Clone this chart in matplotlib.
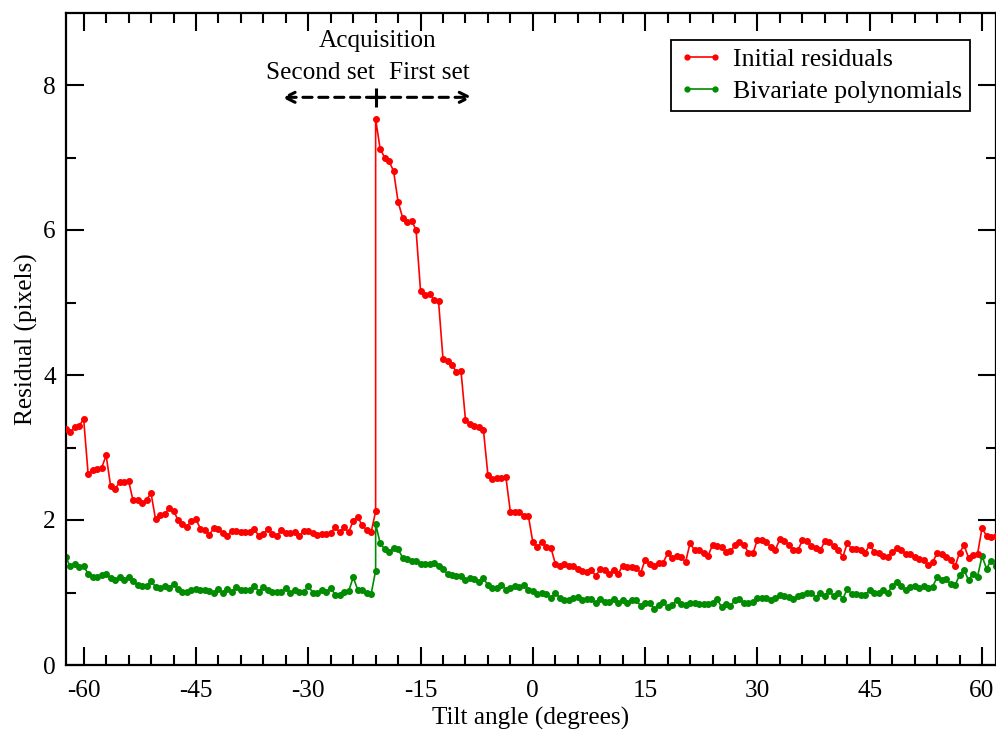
import numpy as np
import matplotlib
matplotlib.use("Agg")
import matplotlib.pyplot as plt

# ---------------- data ----------------
# tilt-angle grid (degrees): both acquisition sets start at -21 deg, 0.6 deg step
ANGLE_ORIGIN = -21.0
ANGLE_STEP = 0.6
N_SECOND = 70   # second set: -21 down to about -62.4 (stored left to right)
N_FIRST = 139   # first set: -21 up to about +61.8

angles_second = np.round(ANGLE_ORIGIN - ANGLE_STEP * np.arange(N_SECOND - 1, -1, -1), 2)
angles_first = np.round(ANGLE_ORIGIN + ANGLE_STEP * np.arange(N_FIRST), 2)

initial_second = [
    3.26, 3.21, 3.28, 3.30, 3.39, 2.63, 2.69, 2.71, 2.72, 2.89,
    2.47, 2.43, 2.52, 2.52, 2.54, 2.27, 2.28, 2.23, 2.28, 2.37,
    2.01, 2.07, 2.08, 2.16, 2.13, 2.00, 1.94, 1.91, 1.99, 2.01,
    1.88, 1.86, 1.80, 1.89, 1.88, 1.82,
    1.78, 1.85, 1.85, 1.83, 1.83, 1.83, 1.87, 1.78, 1.81, 1.87,
    1.81, 1.78, 1.86, 1.82, 1.82, 1.83, 1.78, 1.85, 1.85, 1.82,
    1.79, 1.81, 1.81, 1.82, 1.90, 1.83, 1.90, 1.83, 1.99, 2.04,
    1.93, 1.86, 1.83, 2.12,
]
initial_first = [
    7.53, 7.12, 7.00, 6.95, 6.81, 6.39, 6.17, 6.11, 6.13, 6.00,
    5.16, 5.11, 5.12, 5.04, 5.02, 4.22, 4.19, 4.14, 4.04, 4.06,
    3.38, 3.32, 3.30, 3.28, 3.24, 2.62, 2.57, 2.58, 2.58, 2.59,
    2.11, 2.11, 2.11, 2.06, 2.06, 1.69, 1.63, 1.69, 1.63, 1.62,
    1.40, 1.37, 1.39, 1.37, 1.37, 1.33,
    1.29, 1.28, 1.31, 1.23, 1.32, 1.31, 1.26, 1.31, 1.26, 1.37,
    1.35, 1.35, 1.34, 1.27, 1.45, 1.40, 1.37, 1.41, 1.41, 1.54,
    1.47, 1.51, 1.49, 1.42, 1.68,
    1.58, 1.58, 1.54, 1.50, 1.66, 1.64, 1.63, 1.56, 1.57, 1.65,
    1.70, 1.66, 1.55, 1.54, 1.73, 1.73, 1.69, 1.63, 1.59, 1.74,
    1.71, 1.66, 1.59, 1.58, 1.72, 1.71, 1.64, 1.61, 1.58, 1.71,
    1.70, 1.64, 1.59, 1.49, 1.68,
    1.60, 1.60, 1.59, 1.55, 1.66, 1.56, 1.54, 1.50, 1.49, 1.56,
    1.61, 1.59, 1.53, 1.53, 1.49, 1.46, 1.45, 1.38, 1.42, 1.54,
    1.53, 1.49, 1.45, 1.36, 1.55, 1.65, 1.48, 1.52, 1.53, 1.89,
    1.78, 1.76, 1.78,
]
bivariate_second = [
    1.49, 1.36, 1.39, 1.35, 1.36, 1.26, 1.22, 1.21, 1.24, 1.26,
    1.20, 1.17, 1.21, 1.17, 1.21, 1.16, 1.10, 1.09, 1.09, 1.16,
    1.08, 1.06, 1.09, 1.06, 1.12, 1.05, 1.01, 1.01, 1.04, 1.05,
    1.04, 1.04, 1.02, 1.00, 1.05, 0.99,
    1.05, 1.01, 1.07, 1.04, 1.03, 1.04, 1.09, 1.01, 1.08, 1.03,
    1.01, 1.01, 1.01, 1.06, 0.99, 1.03, 1.01, 1.01, 1.09, 1.00,
    1.00, 1.03, 1.01, 1.06, 0.97, 0.97, 1.01, 1.02, 1.21, 1.04,
    1.03, 0.99, 0.98, 1.30,
]
bivariate_first = [
    1.95, 1.68, 1.60, 1.56, 1.62, 1.60, 1.48, 1.46, 1.43, 1.43,
    1.40, 1.40, 1.40, 1.41, 1.37, 1.33, 1.26, 1.24, 1.23, 1.23,
    1.17, 1.20, 1.19, 1.14, 1.20, 1.10, 1.06, 1.06, 1.11, 1.04,
    1.06, 1.09, 1.08, 1.10, 1.04,
    1.02, 0.98, 1.00, 0.98, 0.93, 0.99, 0.93, 0.89, 0.90, 0.92,
    0.94, 0.90, 0.91, 0.91, 0.85, 0.91, 0.87, 0.87, 0.91, 0.86,
    0.89, 0.86, 0.90, 0.89, 0.82, 0.85, 0.86, 0.77, 0.83, 0.87,
    0.80, 0.83, 0.89, 0.84, 0.83, 0.85,
    0.86, 0.84, 0.84, 0.84, 0.85, 0.91, 0.80, 0.84, 0.82, 0.89,
    0.91, 0.86, 0.86, 0.87, 0.92, 0.92, 0.93, 0.89, 0.93, 0.96,
    0.95, 0.94, 0.91, 0.95, 0.97, 1.00, 1.00, 0.93, 0.99, 0.95,
    1.02, 0.95, 1.00, 0.91, 1.05,
    0.98, 0.98, 0.97, 0.97, 1.03, 0.99, 0.99, 1.03, 0.99, 1.09,
    1.14, 1.09, 1.03, 1.07, 1.09, 1.06, 1.09, 1.06, 1.08, 1.21,
    1.17, 1.18, 1.12, 1.10, 1.24, 1.31, 1.17, 1.26, 1.22, 1.50,
    1.33, 1.44, 1.37,
]

series_labels = ["Initial residuals", "Bivariate polynomials"]
x_ticks = [-60, -45, -30, -15, 0, 15, 30, 45, 60]
y_ticks = [0, 2, 4, 6, 8]

# ---------------- figure ----------------
plt.rcParams["font.family"] = ["Liberation Serif", "DejaVu Serif"]

FS = 18.2

fig = plt.figure(figsize=(9.96, 7.29), dpi=100)
W, H = 996.0, 729.0
ax_left, ax_right, ax_top, ax_bottom = 65.7, 995.5, 12.5, 665.0
ax = fig.add_axes([ax_left / W, 1 - ax_bottom / H,
                   (ax_right - ax_left) / W, (ax_bottom - ax_top) / H])

x_all = np.concatenate([angles_second, angles_first])
red_all = np.concatenate([initial_second, initial_first])
green_all = np.concatenate([bivariate_second, bivariate_first])

ax.plot(x_all, red_all, color="#ff0000", lw=1.2, marker="o", ms=4.0,
        mec="#ff0000", mfc="#ff0000", label=series_labels[0], zorder=3)
ax.plot(x_all, green_all, color="#008b00", lw=1.2, marker="o", ms=4.0,
        mec="#008b00", mfc="#008b00", label=series_labels[1], zorder=2)

ax.set_xlim(angles_second[0], angles_first[-1])
ax.set_ylim(0, 9)
ax.set_xticks(x_ticks)
ax.set_xticklabels([str(t) for t in x_ticks])
ax.set_yticks(y_ticks)
ax.set_xticks(np.arange(-60, 61, 3), minor=True)
ax.set_yticks([1, 3, 5, 7], minor=True)

ax.tick_params(axis="both", which="major", direction="in", length=13, width=1.5,
               labelsize=FS, top=True, right=True)
ax.tick_params(axis="both", which="minor", direction="in", length=7, width=1.5,
               top=True, right=True)
ax.tick_params(axis="x", which="major", pad=11)
ax.tick_params(axis="y", which="major", pad=7)
for s in ax.spines.values():
    s.set_linewidth(1.6)

ax.set_xlabel("Tilt angle (degrees)", fontsize=FS, labelpad=3)
ax.set_ylabel("Residual (pixels)", fontsize=FS, labelpad=4)

leg = ax.legend(loc="upper right", bbox_to_anchor=(0.973, 0.958), fontsize=18.6,
                numpoints=2, handlelength=1.7, handletextpad=0.4,
                borderpad=0.32, labelspacing=0.33, fancybox=False,
                framealpha=1, edgecolor="black", borderaxespad=0)
leg.get_frame().set_linewidth(1.3)
for h in leg.legend_handles:
    h.set_markersize(3.5)

# annotation: acquisition directions
y_arrow = 7.83
x_mid, x_lo, x_hi = -21.0, -33.55, -8.04
for x_end in (x_lo, x_hi):
    ax.annotate("", xy=(x_end, y_arrow), xytext=(x_mid, y_arrow),
                arrowprops=dict(arrowstyle="->", linestyle=(0, (3, 2.2)), lw=2.2,
                                color="black", mutation_scale=18, shrinkA=0, shrinkB=0),
                annotation_clip=False)
ax.plot([x_mid, x_mid], [y_arrow - 0.13, y_arrow + 0.13], color="black", lw=2.2,
        solid_capstyle="butt", zorder=5)
ax.plot([x_mid - 0.9, x_mid + 0.9], [y_arrow, y_arrow], color="black", lw=2.2,
        solid_capstyle="butt", zorder=5)

ax.text(x_mid + 0.3, 8.6, "Acquisition", ha="center", va="center", fontsize=FS)
ax.text(x_mid - 0.1, 8.17, "Second set", ha="right", va="center", fontsize=FS)
ax.text(x_mid + 1.8, 8.17, "First set", ha="left", va="center", fontsize=FS)

fig.savefig("out.png", dpi=100)
